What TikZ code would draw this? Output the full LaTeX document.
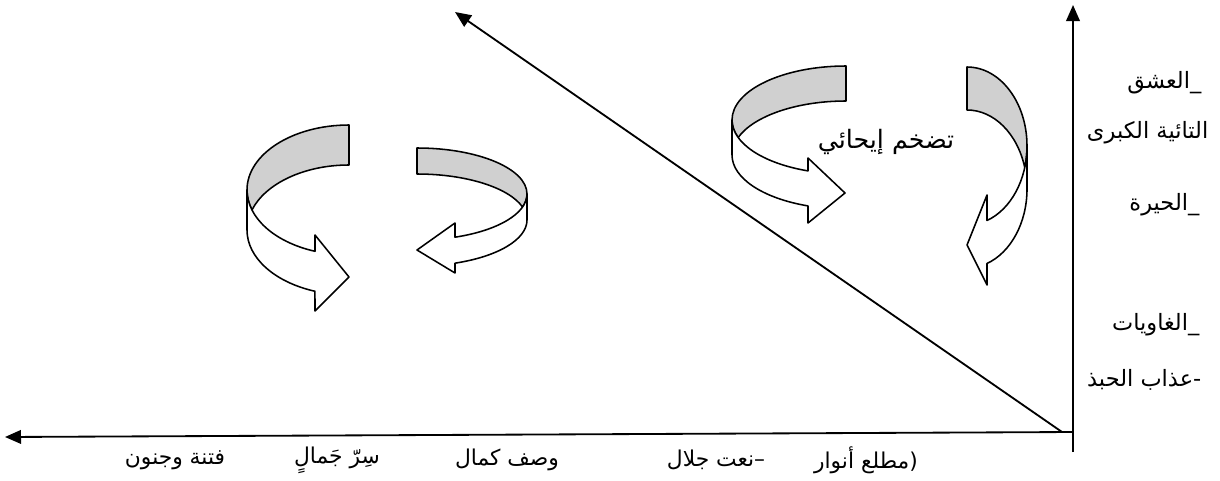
\documentclass[tikz,border=0pt]{standalone}
\usepackage{fontspec}
\newfontfamily\arabicfont[Script=Arabic]{DejaVu Sans}
\TeXXeTstate=1
\usetikzlibrary{arrows.meta}

\begin{document}
\begin{tikzpicture}[
    x=0.025cm, y=-0.025cm,
    every node/.style={font=\arabicfont\fontsize{15}{18}\selectfont, inner sep=1pt},
    sidelabel/.style={font=\arabicfont\fontsize{16}{19}\selectfont, anchor=east},
    footlabel/.style={font=\arabicfont\fontsize{15.5}{18}\selectfont},
    midlabel/.style={font=\arabicfont\fontsize{18}{21}\selectfont},
    axis/.style={draw=ink, line width=1.3pt, -{Triangle[length=0.4cm, width=0.34cm]}},
    ribbon/.style={draw=ink, line width=1.1pt, line join=round},
]

% ---------------------------------------------------------------- colours
\definecolor{ink}{HTML}{000000}
\definecolor{ribbongray}{HTML}{D0D0D0}   % inside of the ribbon
\definecolor{paper}{HTML}{FFFFFF}

\useasboundingbox (0,0) rectangle (1220,480);

% ================================================================
% the two axes and the diagonal, all meeting near the origin
% ================================================================
\coordinate (origin)  at (1073,432);
\coordinate (ybottom) at (1073,452);
\coordinate (ytop)    at (1073,5);
\coordinate (xend)    at (5,437);
\coordinate (dfoot)   at (1062,432);
\coordinate (dtop)    at (455,12);

\draw[axis] (ybottom) -- (ytop);
\draw[axis] (origin) -- (xend);
\draw[axis] (dfoot) -- (dtop);

% ================================================================
% ribbon arrows: back side grey, front side white
% ================================================================

% left pair, the one turning right
\draw[ribbon, fill=ribbongray] (349,125) arc[start angle=270, end angle=180, x radius=102, y radius=65]
    arc[start angle=180, end angle=162.08, x radius=102, y radius=65]
    arc[start angle=197.92, end angle=270, x radius=102, y radius=65] -- cycle;
\draw[ribbon, fill=paper] (247,190) -- (247,230)
    arc[start angle=180, end angle=109.5, x radius=102, y radius=65]
    -- (315,311) -- (349,277) -- (315,235) -- (315,251.3)
    arc[start angle=109.5, end angle=180, x radius=102, y radius=65] -- cycle;

% left pair, the one turning left
\draw[ribbon, fill=ribbongray] (417,148) arc[start angle=-90, end angle=0, x radius=110, y radius=46]
    arc[start angle=0, end angle=16.42, x radius=110, y radius=46]
    arc[start angle=-16.42, end angle=-90, x radius=110, y radius=46] -- cycle;
\draw[ribbon, fill=paper] (527,194) -- (527,220)
    arc[start angle=0, end angle=69.8, x radius=110, y radius=46]
    -- (455,273) -- (417,250) -- (455,223) -- (455,237.2)
    arc[start angle=69.8, end angle=0, x radius=110, y radius=46] -- cycle;

% upper pair, the wide one
\draw[ribbon, fill=ribbongray] (846,66) arc[start angle=270, end angle=180, x radius=114, y radius=54]
    arc[start angle=180, end angle=161.09, x radius=114, y radius=54]
    arc[start angle=198.91, end angle=270, x radius=114, y radius=54] -- cycle;
\draw[ribbon, fill=paper] (732,120) -- (732,155)
    arc[start angle=180, end angle=109.47, x radius=114, y radius=54]
    -- (808,223) -- (845,193) -- (808,158) -- (808,170.9)
    arc[start angle=109.47, end angle=180, x radius=114, y radius=54] -- cycle;

% upper pair, the narrow one
\draw[ribbon, fill=ribbongray] (967,67) arc[start angle=-90, end angle=0, x radius=60, y radius=79]
    arc[start angle=0, end angle=15.79, x radius=60, y radius=79]
    arc[start angle=-15.79, end angle=-90, x radius=60, y radius=79] -- cycle;
\draw[ribbon, fill=paper] (1027,146) -- (1027,189)
    arc[start angle=0, end angle=70.53, x radius=60, y radius=79]
    -- (987,285) -- (967,245) -- (987,195) -- (987,220.5)
    arc[start angle=70.53, end angle=0, x radius=60, y radius=79] -- cycle;

\node[midlabel] (tadakhum) at (886,142) {\beginR تضخم إيحائي\endR};

% labels along the vertical axis, right aligned
\foreach \name/\x/\y/\txt in {%
    ishq/1203/83/{\_العشق},
    taiyya/1210/133/{التائية الكبرى},
    hayra/1201/205/{\_الحيرة},
    ghawayat/1201/325/{\_الغاويات},
    adhab/1203/380/{-عذاب الحبذ}%
} {
    \node[sidelabel] (\name) at (\x,\y) {\beginR\txt\endR};
}

% labels under the horizontal axis
\foreach \name/\x/\txt in {%
    fitna/175/{فتنة وجنون},
    sirr/337/{سِرّ جَمالٍ},
    wasf/507/{وصف كمال},
    naat/716/{–نعت جلال},
    matla/866/{(مطلع أنوار}%
} {
    \node[footlabel] (\name) at (\x,460) {\beginR\txt\endR};
}

\end{tikzpicture}
\end{document}
